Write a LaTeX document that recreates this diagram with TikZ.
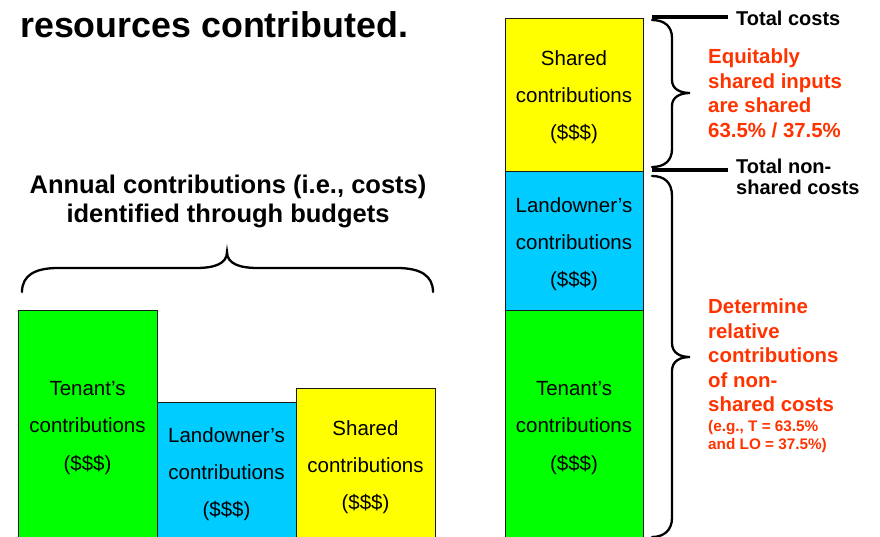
\documentclass[tikz,border=0pt]{standalone}
\usepackage{fontspec}
\setmainfont{Liberation Sans}
\definecolor{tgreen}{RGB}{0,255,0}
\definecolor{lblue}{RGB}{0,204,255}
\definecolor{syellow}{RGB}{255,255,0}
\definecolor{ored}{RGB}{255,51,0}
\begin{document}
\begin{tikzpicture}[x=1pt,y=-1pt,
  bar/.style={draw=black!90, line width=1.2pt, anchor=north west, inner sep=0pt},
  bartext/.style={align=center, inner sep=0pt, font=\fontsize{20.5}{37.3}\selectfont},
  lbl/.style={inner sep=0pt, anchor=base west, align=left, font=\fontsize{20}{21}\selectfont\bfseries},
  redtext/.style={inner sep=0pt, anchor=base west, align=left, text=ored, font=\fontsize{20.4}{24.5}\selectfont\bfseries},
  redsmall/.style={inner sep=0pt, anchor=base west, align=left, text=ored, font=\fontsize{15.3}{17.6}\selectfont\bfseries},
  tick/.style={line width=3.2pt},
  bracepath/.style={line width=2.3pt, line cap=round}]
\clip (0,0) rectangle (880,536);
\fill[white] (0,0) rectangle (880,536);

% title (second line of a cut-off heading)
\node[inner sep=0pt, anchor=base west, font=\fontsize{35.8}{40}\selectfont\bfseries] (title) at (20,37.5) {resources contributed.};

% left heading (base = last line)
\node[inner sep=0pt, anchor=base, align=center, font=\fontsize{25.5}{29}\selectfont\bfseries] (head) at (228,222) {Annual contributions (i.e., costs)\\identified through budgets};

% left brace
\coordinate (lbA) at (22,292);
\coordinate (lbT) at (227,252);
\coordinate (lbB) at (433,292);
\draw[bracepath] (lbA) .. controls (22,276) and (34,268) .. (58,268) -- (196,268)
  .. controls (214,268) and (227,264) .. (lbT)
  .. controls (227,264) and (240,268) .. (258,268) -- (397,268)
  .. controls (421,268) and (433,276) .. (lbB);

% left bars
\node[bar, fill=tgreen, minimum width=139pt, minimum height=240pt] (gL) at (18,310) {};
\node[bar, fill=lblue, minimum width=139pt, minimum height=150pt] (bL) at (157,402) {};
\node[bar, fill=syellow, minimum width=139pt, minimum height=160pt] (yL) at (296,388) {};
\node[bartext] (gLt) at (87.5,428) {Tenant’s\\contributions\\(\$\$\$)};
\node[bartext] (bLt) at (226.5,474) {Landowner’s\\contributions\\(\$\$\$)};
\node[bartext] (yLt) at (365.5,467) {Shared\\contributions\\(\$\$\$)};

% right stacked bar
\node[bar, fill=tgreen, minimum width=138pt, minimum height=240pt] (gR) at (505,310) {};
\node[bar, fill=lblue, minimum width=138pt, minimum height=139pt] (bR) at (505,171) {};
\node[bar, fill=syellow, minimum width=138pt, minimum height=153pt] (yR) at (505,18) {};
\node[bartext] (yRt) at (574,97) {Shared\\contributions\\(\$\$\$)};
\node[bartext] (bRt) at (574,244) {Landowner’s\\contributions\\(\$\$\$)};
\node[bartext] (gRt) at (574,428) {Tenant’s\\contributions\\(\$\$\$)};

% marker lines and labels
\node[lbl] (tcost) at (736,25) {Total costs};
\node[lbl] (tnon) at (736,194) {Total non-\\shared costs};
\coordinate (t1a) at (652,17);
\coordinate (t1b) at (728,17);
\coordinate (t2a) at (652,170);
\coordinate (t2b) at (728,170);
\draw[tick] (t1a) -- (t1b);
\draw[tick] (t2a) -- (t2b);

% right braces
\coordinate (b1A) at (652,20);
\coordinate (b1T) at (690,93);
\coordinate (b1B) at (652,167);
\draw[bracepath] (b1A) .. controls (664,20) and (672,26) .. (672,38) -- (672,80)
  .. controls (672,89) and (680,93) .. (b1T)
  .. controls (680,93) and (672,97) .. (672,106) -- (672,149)
  .. controls (672,161) and (664,167) .. (b1B);
\coordinate (b2A) at (652,176);
\coordinate (b2T) at (690,357);
\coordinate (b2B) at (652,537);
\draw[bracepath] (b2A) .. controls (664,176) and (672,182) .. (672,196) -- (672,343)
  .. controls (672,353) and (680,357) .. (b2T)
  .. controls (680,357) and (672,361) .. (672,371) -- (672,518)
  .. controls (672,530) and (664,537) .. (b2B);

% red annotations (base = last line)
\node[redtext] (eq) at (708,137) {Equitably\\shared inputs\\are shared\\63.5\% / 37.5\%};
\node[redtext] (det) at (708,411.5) {Determine\\relative\\contributions\\of non-\\shared costs};
\node[redsmall] (eg) at (708,449.3) {(e.g., T = 63.5\%\\and LO = 37.5\%)};
\end{tikzpicture}
\end{document}
